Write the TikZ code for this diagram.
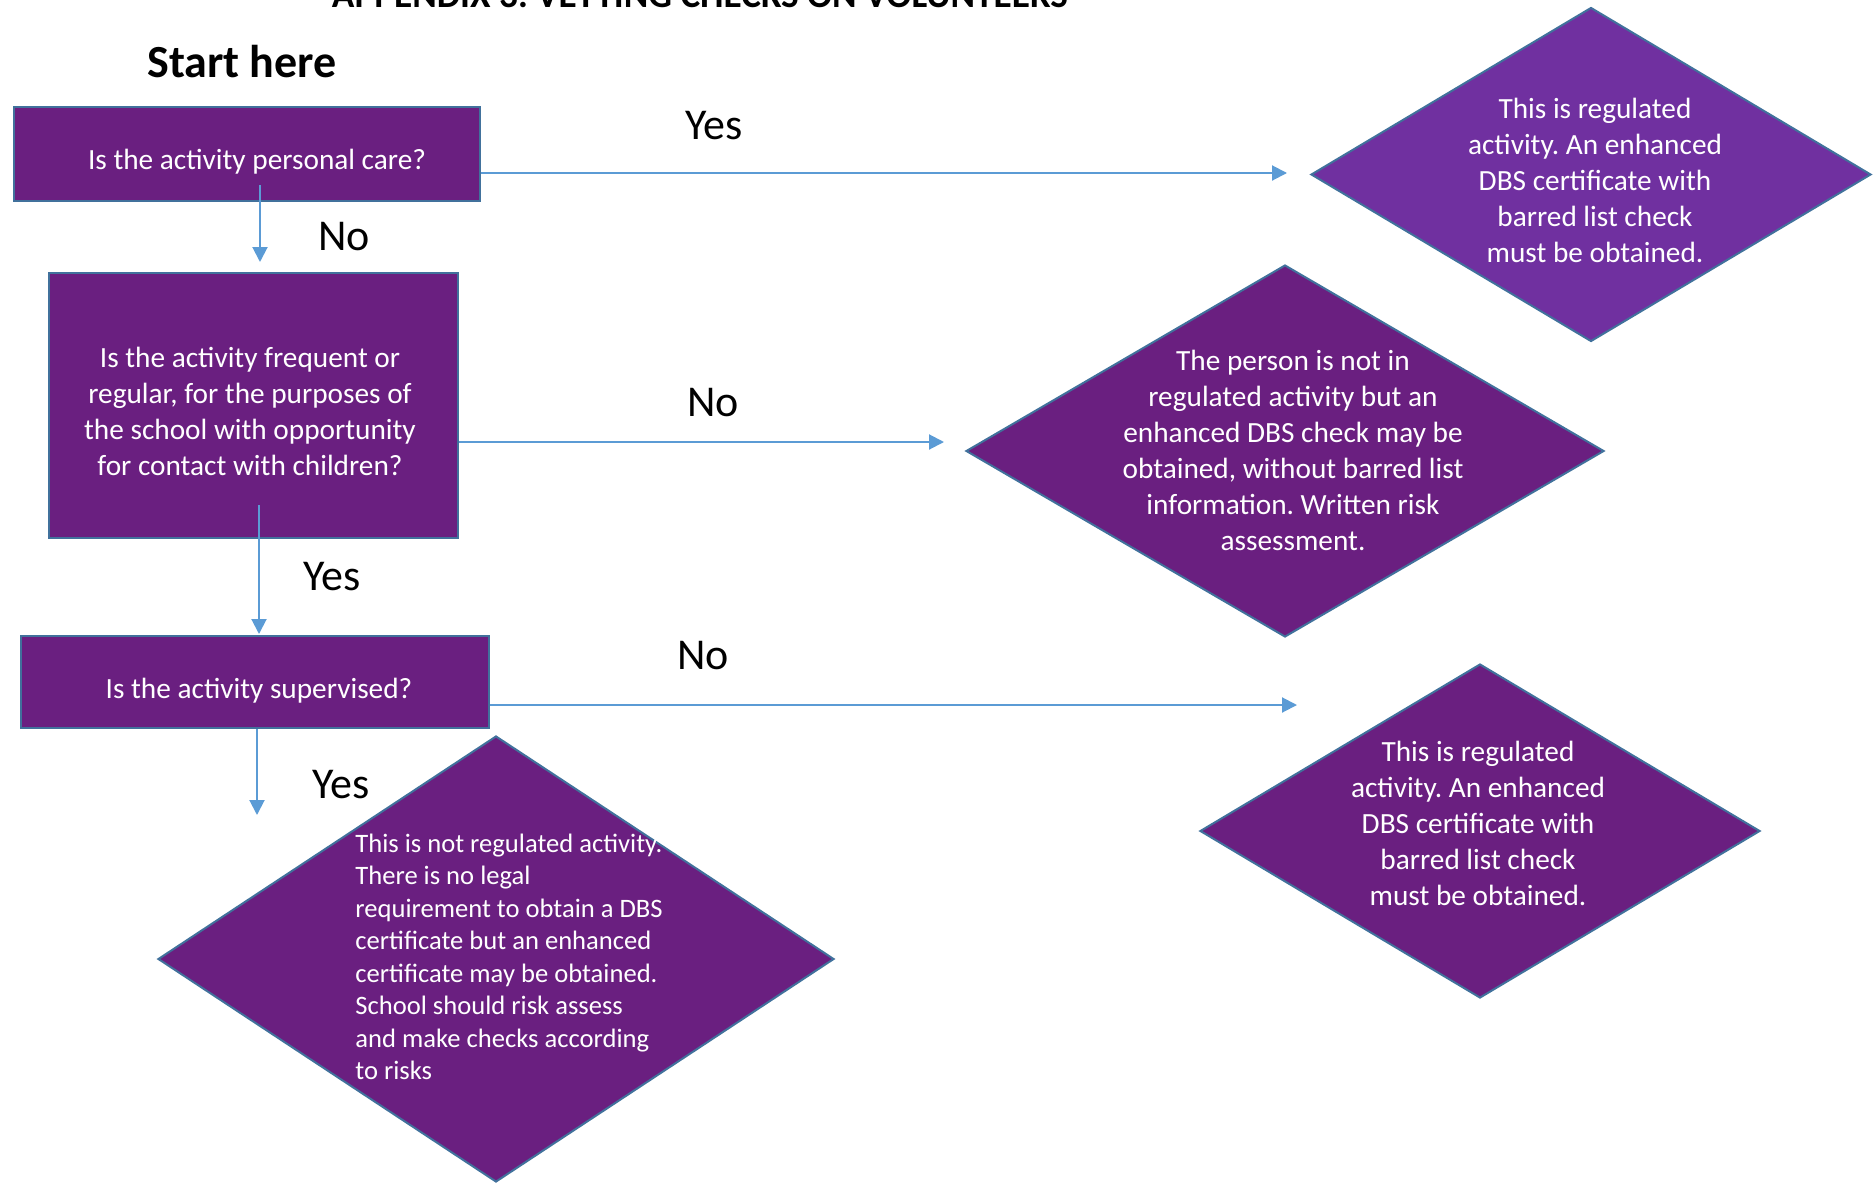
\documentclass[tikz,border=0pt]{standalone}
\usepackage{fontspec}
\setmainfont{Carlito}
\frenchspacing
\usetikzlibrary{shapes.geometric,arrows.meta}

\definecolor{boxpurple}{HTML}{6A1F80}
\definecolor{lightpurple}{HTML}{7030A0}
\definecolor{edgeblue}{HTML}{41719C}
\definecolor{flowblue}{HTML}{5B9BD5}

\tikzset{
  question/.style={rectangle, draw=edgeblue, line width=1.3pt, fill=boxpurple, inner sep=0pt},
  outcome/.style={diamond, draw=edgeblue, line width=1pt, fill=boxpurple, inner sep=0pt},
  boxtext/.style={text=white, align=center, inner sep=0pt, font=\fontsize{14.65}{18}\selectfont},
  notetext/.style={text=white, align=left, inner sep=0pt, font=\fontsize{13.3}{16.25}\selectfont},
  answer/.style={inner sep=0pt, font=\fontsize{22}{26}\selectfont},
  flow/.style={draw=flowblue, line width=1pt, -{Triangle[length=7.5pt,width=7.5pt]}}
}

\begin{document}
\begin{tikzpicture}[x=0.5pt, y=-0.5pt]
\useasboundingbox (0,0) rectangle (1874,1183);

% heading (cut by the top edge)
\node [anchor=base, inner sep=0pt, font=\bfseries\fontsize{18.6}{22}\selectfont] (title) at (700,8) {APPENDIX 3: VETTING CHECKS ON VOLUNTEERS};
\node [inner sep=0pt, font=\bfseries\fontsize{23}{28}\selectfont] (start) at (242,62) {Start here};

% questions
\node [question, minimum width=233pt, minimum height=47pt] (care) at (247,154) {};
\node [boxtext] (caretext) at (257,162) {Is the activity personal care?};
\node [question, minimum width=204.5pt, minimum height=132.5pt] (freq) at (253.5,405.5) {};
\node [boxtext] (freqtext) at (250,411) {Is the activity frequent or\\regular, for the purposes of\\the school with opportunity\\for contact with children?};
\node [question, minimum width=234pt, minimum height=46pt] (sup) at (255,682) {};
\node [boxtext] (suptext) at (259,691) {Is the activity supervised?};

% outcomes
\node [outcome, fill=lightpurple, minimum width=280pt, minimum height=167pt] (regtop) at (1591,174.5) {};
\node [boxtext] (regtoptext) at (1595,180) {This is regulated\\activity. An enhanced\\DBS certificate with\\barred list check\\must be obtained.};

\node [outcome, minimum width=319pt, minimum height=186pt] (notreg) at (1285,451) {};
\node [boxtext] (notregtext) at (1293,450) {The person is not in\\regulated activity but an\\enhanced DBS check may be\\obtained, without barred list\\information. Written risk\\assessment.};

\node [outcome, minimum width=280pt, minimum height=167pt] (regbot) at (1480,831) {};
\node [boxtext] (regbottext) at (1478,823) {This is regulated\\activity. An enhanced\\DBS certificate with\\barred list check\\must be obtained.};

\node [outcome, minimum width=338pt, minimum height=223pt] (nochk) at (496,959) {};
\node [notetext, anchor=west] (nochktext) at (355,957) {This is not regulated activity.\\There is no legal\\requirement to obtain a DBS\\certificate but an enhanced\\certificate may be obtained.\\School should risk assess\\and make checks according\\to risks};

% arrow ends
\coordinate (careyes) at (1287,173);
\coordinate (carenoA) at (260,185);
\coordinate (carenoB) at (260,262);
\coordinate (freqno) at (944,442);
\coordinate (freqyesA) at (259,505);
\coordinate (freqyesB) at (259,634);
\coordinate (supno) at (1297,705);
\coordinate (supyes) at (257,815);

\draw [flow] (care.east |- careyes) -- (careyes);
\draw [flow] (carenoA) -- (carenoB);
\draw [flow] (freq.east |- freqno) -- (freqno);
\draw [flow] (freqyesA) -- (freqyesB);
\draw [flow] (sup.east |- supno) -- (supno);
\draw [flow] (sup.south -| supyes) -- (supyes);

% answers
\node [answer] (yesA) at (714,126) {Yes};
\node [answer] (noA) at (344,237) {No};
\node [answer] (noB) at (713,403) {No};
\node [answer] (yesB) at (332,577) {Yes};
\node [answer] (noC) at (703,656) {No};
\node [answer] (yesC) at (341,785) {Yes};

\end{tikzpicture}
\end{document}
